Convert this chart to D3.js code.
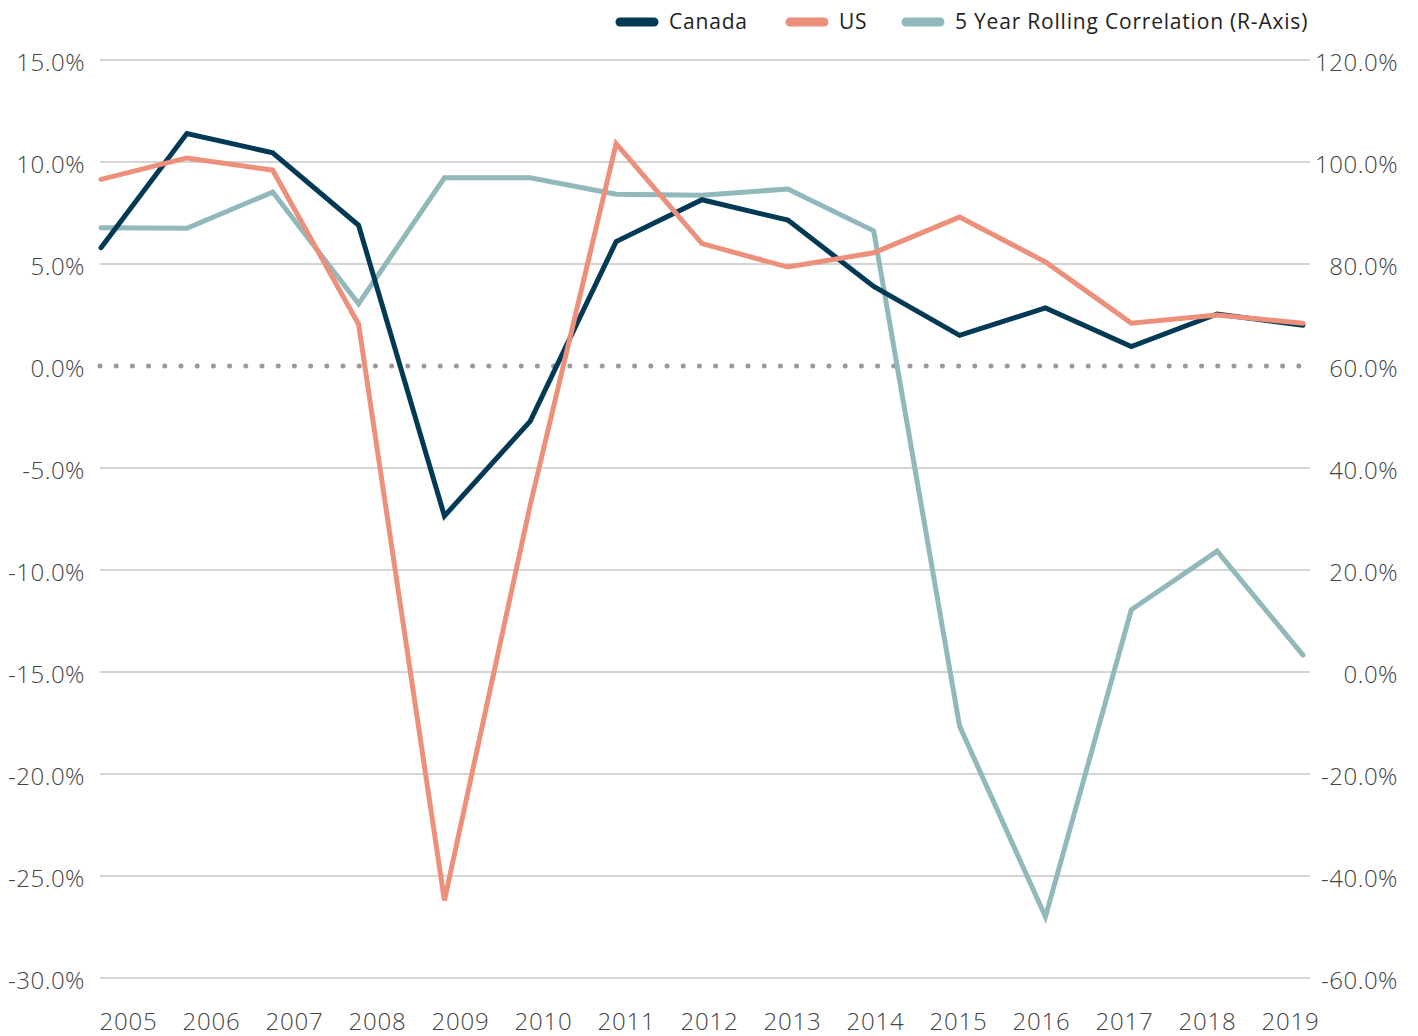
<!DOCTYPE html>
<html>
<head>
  <meta charset="utf-8">
  <title>Canada vs US</title>
  <script src="https://d3js.org/d3.v7.min.js"></script>
  <style>
    body { margin: 0; background: #fff; }
    text { font-family: "Open Sans", sans-serif; }
  </style>
</head>
<body>
<svg class="chart"></svg>
<script>
// data
const years = ["2005","2006","2007","2008","2009","2010","2011","2012","2013","2014","2015","2016","2017","2018","2019"];
const canada = [5.8, 11.4, 10.45, 6.9, -7.35, -2.7, 6.1, 8.15, 7.15, 3.9, 1.5, 2.85, 0.95, 2.55, 2.0];
const us = [9.15, 10.2, 9.6, 2.05, -26.2, -6.8, 10.9, 6.0, 4.85, 5.55, 7.3, 5.1, 2.1, 2.5, 2.1];
const rollingCorr = [87.1, 87.0, 94.1, 72.2, 96.9, 96.9, 93.7, 93.5, 94.7, 86.5, -10.6, -48.0, 12.2, 23.7, 3.3];
const leftTicks = [15, 10, 5, 0, -5, -10, -15, -20, -25, -30];
const rightTicks = [120, 100, 80, 60, 40, 20, 0, -20, -40, -60];

const W = 1418, H = 1036;
const svg = d3.select(".chart").attr("width", W).attr("height", H);

// scales
const x = d3.scalePoint().domain(years).range([101, 1303]);
const xLabel = d3.scalePoint().domain(years).range([128, 1290]);
const yL = d3.scaleLinear().domain([-30, 15]).range([978, 60]);
const yR = d3.scaleLinear().domain([-60, 120]).range([978, 60]);

// gridlines
svg.append("g")
  .selectAll("line")
  .data(leftTicks.filter(d => d !== 0))
  .join("line")
    .attr("x1", 100).attr("x2", 1310)
    .attr("y1", d => yL(d)).attr("y2", d => yL(d))
    .attr("stroke", "#a9a9a9")
    .attr("stroke-width", 1.2);

// dotted zero line
svg.append("line")
  .attr("x1", 100).attr("x2", 1312)
  .attr("y1", yL(0)).attr("y2", yL(0))
  .attr("stroke", "#999")
  .attr("stroke-width", 5)
  .attr("stroke-linecap", "round")
  .attr("stroke-dasharray", "0 16.2");

// left axis
const fmt = d => d.toFixed(1) + "%";
svg.append("g")
  .attr("transform", "translate(85,0)")
  .call(d3.axisLeft(yL).tickValues(leftTicks).tickFormat(fmt).tickSize(0).tickPadding(0))
  .call(g => g.select(".domain").remove())
  .selectAll("text")
    .attr("dy", "0.45em")
    .style("font-size", "24px")
    .style("font-weight", 300)
    .style("letter-spacing", "0.5px")
    .attr("fill", "#444");

// right axis
svg.append("g")
  .attr("transform", "translate(1398,0)")
  .call(d3.axisLeft(yR).tickValues(rightTicks).tickFormat(fmt).tickSize(0).tickPadding(0))
  .call(g => g.select(".domain").remove())
  .selectAll("text")
    .attr("dy", "0.45em")
    .style("font-size", "24px")
    .style("font-weight", 300)
    .style("letter-spacing", "0.5px")
    .attr("fill", "#444");

// bottom axis
svg.append("g")
  .attr("transform", "translate(0,1013)")
  .call(d3.axisBottom(xLabel).tickSize(0).tickPadding(0))
  .call(g => g.select(".domain").remove())
  .selectAll("text")
    .style("font-size", "24px")
    .style("font-weight", 300)
    .style("letter-spacing", "0.8px")
    .attr("fill", "#444");

// lines
const lineL = d3.line().x((d, i) => x(years[i])).y(d => yL(d));
const lineR = d3.line().x((d, i) => x(years[i])).y(d => yR(d));

const series = [
  {name: "5 Year Rolling Correlation (R-Axis)", values: rollingCorr, color: "#91b8bb", gen: lineR},
  {name: "US", values: us, color: "#ec907c", gen: lineL},
  {name: "Canada", values: canada, color: "#023a56", gen: lineL}
];

svg.append("g")
  .selectAll("path")
  .data([series[0], series[2], series[1]])
  .join("path")
    .attr("d", d => d.gen(d.values))
    .attr("fill", "none")
    .attr("stroke", d => d.color)
    .attr("stroke-width", 5)
    .attr("stroke-linejoin", "miter")
    .attr("stroke-linecap", "round");

// legend
const legendItems = [
  {name: "Canada", color: "#023a56", x: 620},
  {name: "US", color: "#ec907c", x: 790},
  {name: "5 Year Rolling Correlation (R-Axis)", color: "#91b8bb", x: 906}
];
const leg = svg.append("g")
  .selectAll("g")
  .data(legendItems)
  .join("g")
    .attr("transform", d => `translate(${d.x},22)`);
leg.append("line")
  .attr("x1", 0).attr("x2", 34)
  .attr("stroke", d => d.color)
  .attr("stroke-width", 9)
  .attr("stroke-linecap", "round");
leg.append("text")
  .attr("x", 49)
  .attr("dy", "0.35em")
  .style("font-size", "21px")
  .style("letter-spacing", "0.8px")
  .attr("fill", "#222")
  .text(d => d.name);
</script>
</body>
</html>
